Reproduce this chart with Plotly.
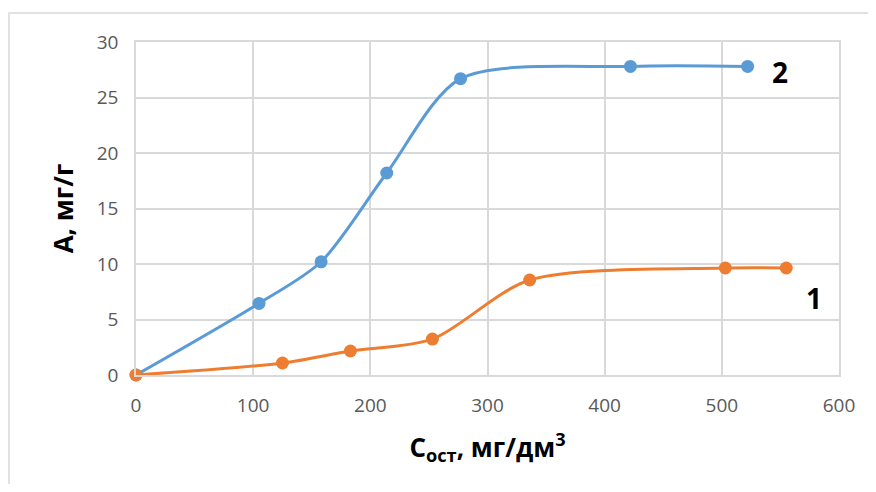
import plotly.graph_objects as go

# Series 1 (orange)
x1 = [0, 125, 183, 253, 336, 503, 555]
y1 = [0, 1.08, 2.16, 3.24, 8.56, 9.64, 9.64]
# Series 2 (blue)
x2 = [0, 105, 158, 214, 277, 422, 522]
y2 = [0, 6.45, 10.2, 18.2, 26.7, 27.8, 27.8]

x_ticks = [0, 100, 200, 300, 400, 500, 600]
y_ticks = [0, 5, 10, 15, 20, 25, 30]

series_labels = ["1", "2"]

BLUE = "#5b9bd5"
ORANGE = "#ed7d31"
FONT = "Open Sans"

fig = go.Figure()
fig.add_trace(go.Scatter(x=x2, y=y2, mode="lines+markers",
                         line=dict(color=BLUE, width=3, shape="spline", smoothing=0.8),
                         marker=dict(color=BLUE, size=13), name="2", cliponaxis=False))
fig.add_trace(go.Scatter(x=x1, y=y1, mode="lines+markers",
                         line=dict(color=ORANGE, width=3, shape="spline", smoothing=0.8),
                         marker=dict(color=ORANGE, size=13), name="1", cliponaxis=False))

fig.add_annotation(x=579, y=6.9, text="<b>" + series_labels[0] + "</b>", showarrow=False,
                   font=dict(family=FONT, size=28, color="black"))
fig.add_annotation(x=550, y=27.3, text="<b>" + series_labels[1] + "</b>", showarrow=False,
                   font=dict(family=FONT, size=28, color="black"))

# outer chart border
fig.add_shape(type="rect", xref="paper", yref="paper",
              x0=(9 - 136) / 703, x1=1.2, y0=-0.5, y1=(375 - 13) / 333,
              line=dict(color="#d9d9d9", width=1.5), layer="below")

fig.update_layout(
    width=860, height=476,
    margin=dict(l=128, r=29, t=34, b=109),
    paper_bgcolor="white", plot_bgcolor="white",
    showlegend=False,
    font=dict(family=FONT, color="#595959", size=19),
    xaxis=dict(range=[0, 600], tickvals=x_ticks, showgrid=True, gridcolor="#d9d9d9",
               gridwidth=1.5, zeroline=False, showline=True, linecolor="#d9d9d9", mirror=True,
               linewidth=1.5, ticks="", tickfont=dict(size=19, color="#595959"),
               ticklabelstandoff=12,
               title=dict(text="<b>C<sub>ост</sub>, мг/дм<sup>3</sup></b>",
                          font=dict(family=FONT, size=26, color="black"), standoff=22)),
    yaxis=dict(range=[0, 30], tickvals=y_ticks, showgrid=True, gridcolor="#d9d9d9",
               gridwidth=1.5, zeroline=False, showline=True, linecolor="#d9d9d9", mirror=True,
               linewidth=1.5, ticks="", tickfont=dict(size=19, color="#595959"),
               ticklabelstandoff=12,
               title=dict(text="<b>А, мг/г</b>",
                          font=dict(family=FONT, size=26, color="black"), standoff=16)),
)

fig.write_html("out.html")
